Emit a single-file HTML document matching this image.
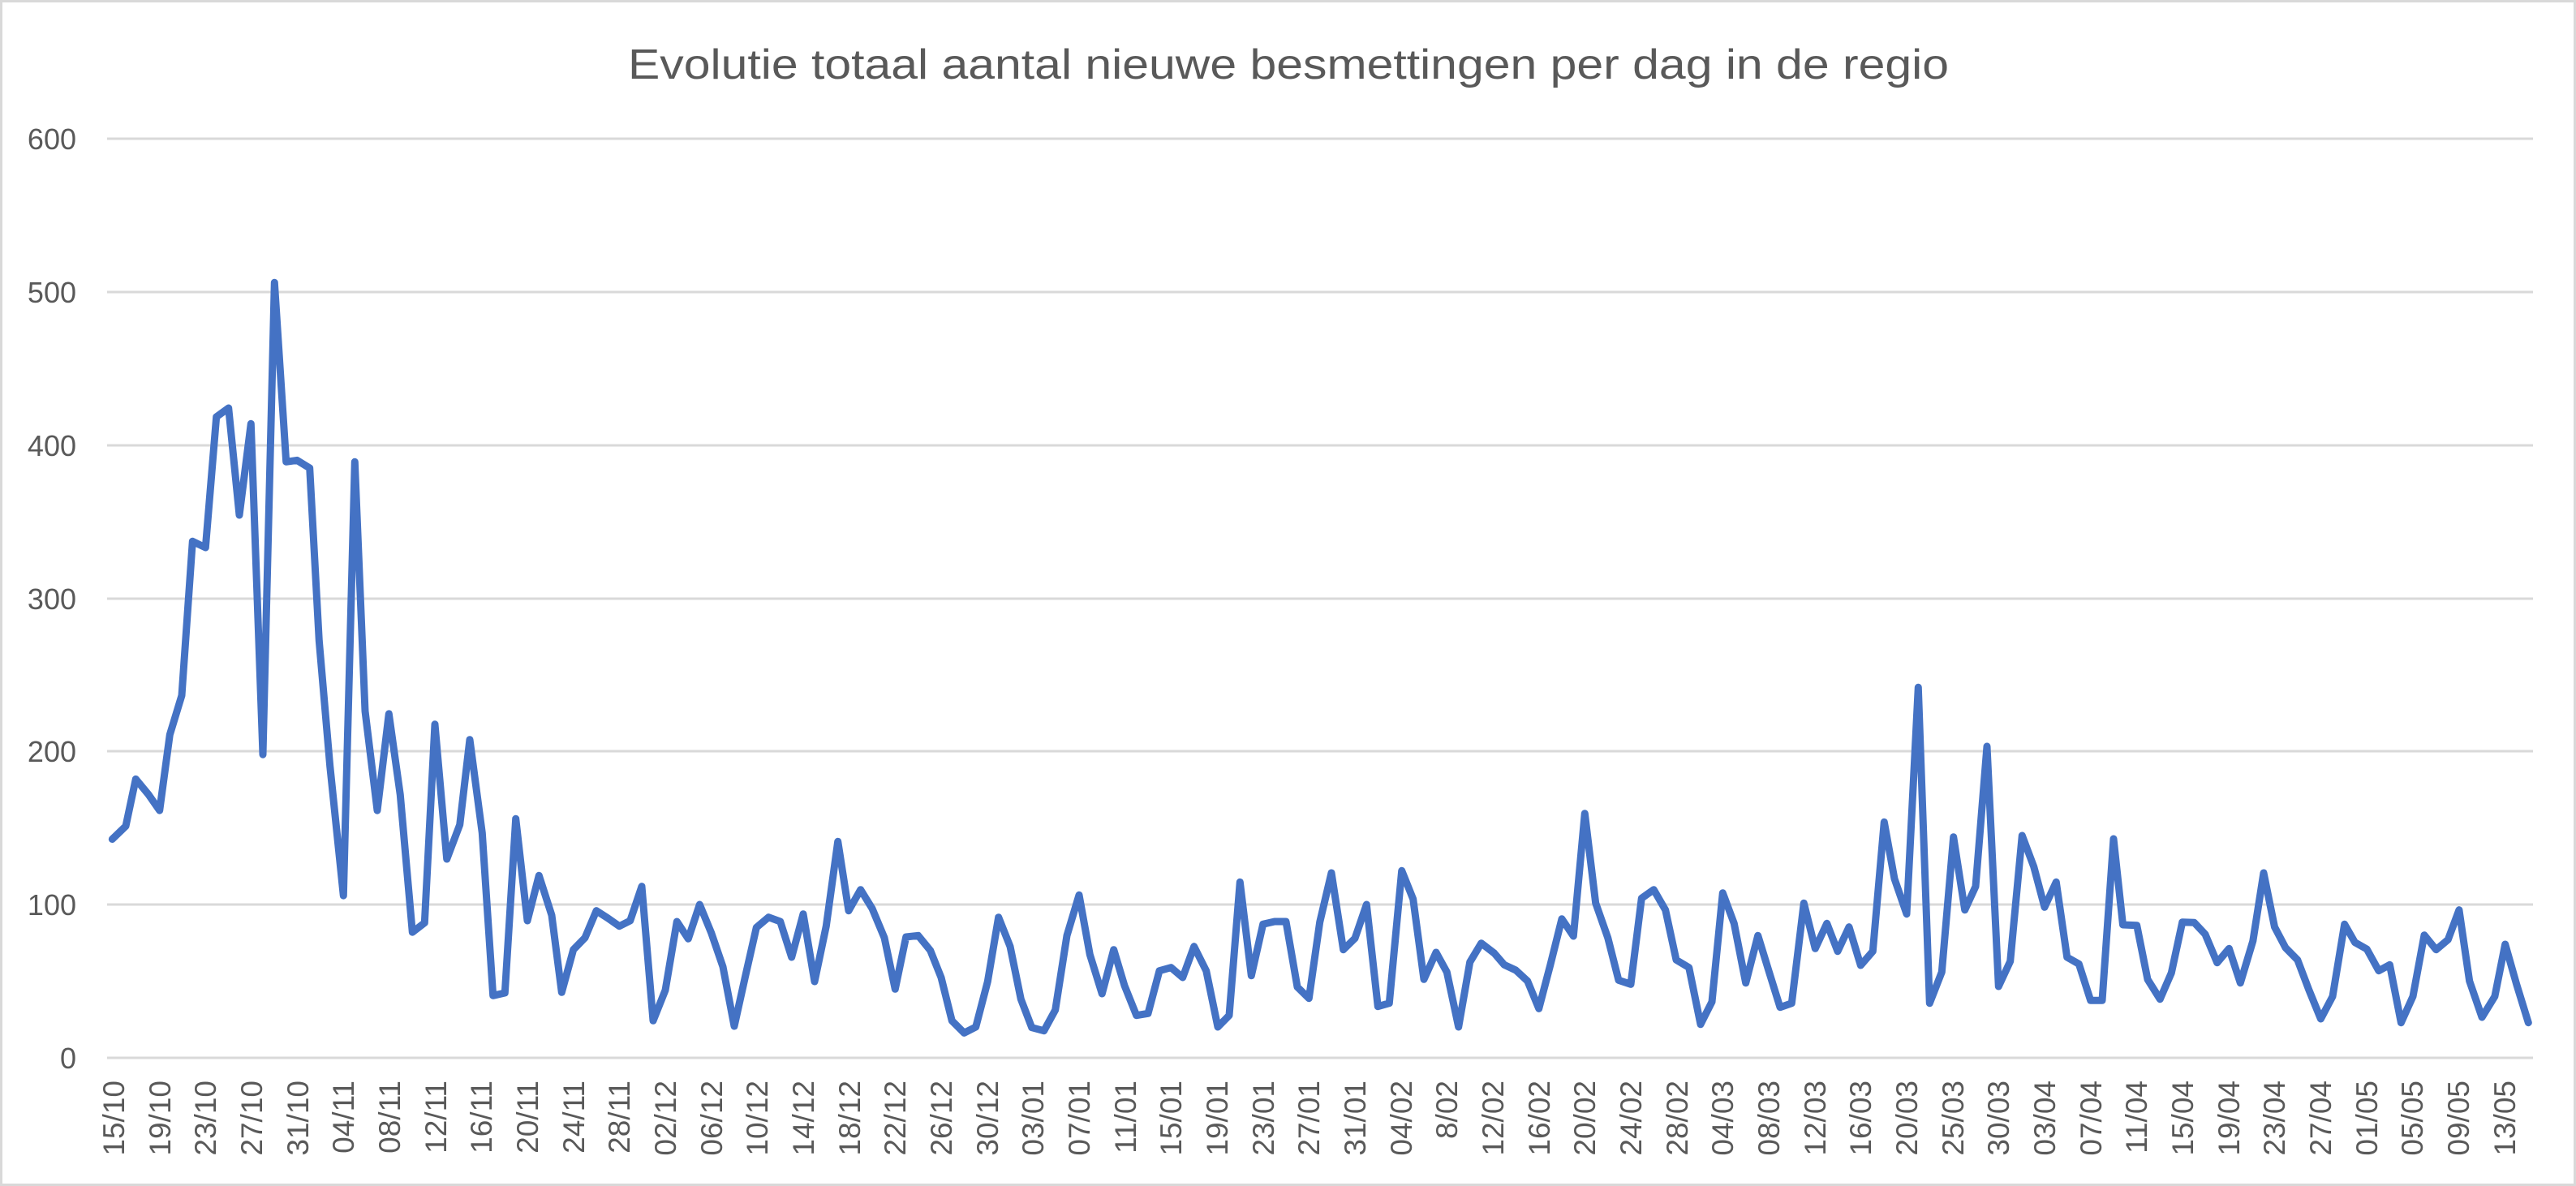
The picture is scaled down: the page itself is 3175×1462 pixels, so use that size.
<!DOCTYPE html>
<html><head><meta charset="utf-8"><style>html,body{margin:0;padding:0;background:#fff}svg{display:block}</style></head>
<body>
<svg width="3175" height="1462" viewBox="0 0 3175 1462" xmlns="http://www.w3.org/2000/svg" font-family="Liberation Sans, sans-serif">
<rect x="0" y="0" width="3175" height="1462" fill="#fff"/>
<rect x="1.5" y="1.5" width="3172" height="1459" fill="none" stroke="#d9d9d9" stroke-width="3"/>
<text x="1588" y="97" text-anchor="middle" font-size="52" fill="#595959" textLength="1628" lengthAdjust="spacingAndGlyphs">Evolutie totaal aantal nieuwe besmettingen per dag in de regio</text>
<g stroke="#d9d9d9" stroke-width="3">
<line x1="132" y1="171" x2="3122" y2="171"/>
<line x1="132" y1="360" x2="3122" y2="360"/>
<line x1="132" y1="549" x2="3122" y2="549"/>
<line x1="132" y1="738" x2="3122" y2="738"/>
<line x1="132" y1="926" x2="3122" y2="926"/>
<line x1="132" y1="1115" x2="3122" y2="1115"/>
<line x1="132" y1="1304" x2="3122" y2="1304"/>
</g>
<g font-size="36" fill="#595959" text-anchor="end">
<text x="94" y="184">600</text>
<text x="94" y="373">500</text>
<text x="94" y="562">400</text>
<text x="94" y="751">300</text>
<text x="94" y="939">200</text>
<text x="94" y="1128">100</text>
<text x="94" y="1317">0</text>
</g>
<g font-size="37" fill="#595959" text-anchor="end" id="xl"></g>
<polyline fill="none" stroke="#4472c4" stroke-width="9" stroke-linejoin="round" stroke-linecap="round" points="
138.3,1034.5 155,1018.4 167.3,960.4 183.3,979.8 196.7,999.1 209.3,905.7 224,857.3 237.3,667.3 253.3,675 266.7,513.9 281.7,503 295,635 309.3,522.3 324,930.2 338.3,348.3 352.7,569.3 366,567.4 381.7,577 393.3,789.7 406.7,944.3 423.3,1104.1 437.3,569.3 450,876.7 465,999.1 479.3,879.9 493.3,979.8 508.3,1149.2 523.3,1137.6 536,892.8 550.7,1059
566.7,1016.7 579,911.7 594.3,1026.7 607.7,1227.3 622.3,1224 635.7,1009.3 650,1135 664.3,1079.3 680,1128.3 692.3,1223.3 706.7,1170.7 721,1156 735,1122.7 749,1131.7 763.3,1141.7 776.7,1135 791,1092.7 805,1258.3 820,1220.7 834.3,1136 848.3,1157.3 862.3,1115 876.7,1150 891,1191.7 905,1265 918.3,1205 932.3,1143.3 947.3,1130.7 961.7,1136 975.7,1180
990,1126.7 1004,1210 1018.3,1141.7 1032.7,1037.3 1046,1122.7 1060.7,1096.7 1075,1120 1090,1156 1103.3,1219.3 1116.7,1155 1131.7,1153.3 1146.7,1171.7 1160,1205 1173.3,1258.3 1188.3,1273.3 1202.7,1266 1217.3,1210 1230.7,1130.7 1245,1166.7 1258.3,1231.7 1271.7,1266.7 1286.7,1270.7 1300.7,1245 1315,1153.3 1330,1103.3 1343.3,1176.7 1358.3,1225 1372.7,1170.7 1386,1215 1400.7,1251.7
1415,1249.3 1429,1196.7 1443.3,1192.7 1457.7,1205 1471.7,1166.7 1486.7,1196.7 1501,1266 1515,1251.7 1528.3,1087.3 1542.3,1202.7 1556.7,1139.3 1571,1136 1585,1136 1599,1216.7 1613.3,1230.7 1626.7,1136.7 1641,1076 1655.7,1170.7 1670,1156.7 1684.3,1115 1698.3,1240.7 1712.3,1236.7 1727.7,1073.3 1741.7,1108.3 1755,1207.3 1770,1174 1783.3,1198.3 1797.7,1266 1811.7,1186 1825.7,1162.7
1841.7,1175 1854,1189.3 1868.3,1196 1882.7,1209.3 1896.7,1243.3 1910.7,1190 1925,1132.7 1939.3,1154 1953.3,1002.7 1966.7,1113.3 1981.7,1156 1995,1208.3 2010,1213.3 2023.3,1107.3 2038.3,1096.7 2052.7,1121.7 2066,1183.3 2081.7,1192.7 2096,1262.7 2110,1235 2123.3,1100.7 2137.3,1138.3 2151.7,1211.7 2166.7,1153.3 2180,1196.7 2194,1241.7 2208.3,1236.7 2223.3,1113.3 2237.3,1169.3 2251.7,1138.3
2265,1172.7 2279,1142.7 2293.3,1190 2308.3,1172.7 2322.3,1013.3 2335,1083.3 2350,1126.7 2364.3,847.3 2378.3,1236.7 2393.3,1198.3 2407.7,1031.7 2421.7,1121.7 2435,1092.7 2449,920 2463.3,1216 2477.7,1185 2492.3,1030 2506.7,1068.3 2520,1118.3 2534.3,1087.3 2547.7,1180 2562.3,1188.3 2576.7,1233.3 2591,1233.3 2605,1034
2616.5,1140 2633.7,1140.7 2647,1207.3 2662.3,1231.7 2676.3,1199.3 2689.8,1136.7 2704.5,1137.3 2718,1151.7 2732.7,1186.7 2747.4,1169.3 2761.3,1211.7 2776.8,1160 2790,1076 2803.5,1142.7 2817,1168.3 2831.8,1183.3 2845.7,1220 2860.4,1256 2875,1228.3 2889.7,1139.3 2902.5,1161.7 2917.2,1170 2931.9,1196.7 2945.4,1189.3 2959.4,1260.7 2974,1228.3 2988,1152.7 3002.6,1170.7 3017.3,1158.3 3030.9,1121.7 3043.7,1209.3 3059.1,1254 3074.9,1228.3 3087.7,1164 3101.7,1213.3 3116.3,1260.7"/>
<g font-size="37" fill="#595959" text-anchor="end">
<text transform="translate(153,1332) rotate(-90)">15/10</text>
<text transform="translate(210,1332) rotate(-90)">19/10</text>
<text transform="translate(266,1332) rotate(-90)">23/10</text>
<text transform="translate(323,1332) rotate(-90)">27/10</text>
<text transform="translate(380,1332) rotate(-90)">31/10</text>
<text transform="translate(436,1332) rotate(-90)">04/11</text>
<text transform="translate(493,1332) rotate(-90)">08/11</text>
<text transform="translate(550,1332) rotate(-90)">12/11</text>
<text transform="translate(606,1332) rotate(-90)">16/11</text>
<text transform="translate(663,1332) rotate(-90)">20/11</text>
<text transform="translate(720,1332) rotate(-90)">24/11</text>
<text transform="translate(776,1332) rotate(-90)">28/11</text>
<text transform="translate(833,1332) rotate(-90)">02/12</text>
<text transform="translate(890,1332) rotate(-90)">06/12</text>
<text transform="translate(946,1332) rotate(-90)">10/12</text>
<text transform="translate(1003,1332) rotate(-90)">14/12</text>
<text transform="translate(1060,1332) rotate(-90)">18/12</text>
<text transform="translate(1116,1332) rotate(-90)">22/12</text>
<text transform="translate(1173,1332) rotate(-90)">26/12</text>
<text transform="translate(1230,1332) rotate(-90)">30/12</text>
<text transform="translate(1286,1332) rotate(-90)">03/01</text>
<text transform="translate(1343,1332) rotate(-90)">07/01</text>
<text transform="translate(1400,1332) rotate(-90)">11/01</text>
<text transform="translate(1456,1332) rotate(-90)">15/01</text>
<text transform="translate(1513,1332) rotate(-90)">19/01</text>
<text transform="translate(1570,1332) rotate(-90)">23/01</text>
<text transform="translate(1626,1332) rotate(-90)">27/01</text>
<text transform="translate(1683,1332) rotate(-90)">31/01</text>
<text transform="translate(1740,1332) rotate(-90)">04/02</text>
<text transform="translate(1796,1332) rotate(-90)">8/02</text>
<text transform="translate(1853,1332) rotate(-90)">12/02</text>
<text transform="translate(1910,1332) rotate(-90)">16/02</text>
<text transform="translate(1966,1332) rotate(-90)">20/02</text>
<text transform="translate(2023,1332) rotate(-90)">24/02</text>
<text transform="translate(2080,1332) rotate(-90)">28/02</text>
<text transform="translate(2136,1332) rotate(-90)">04/03</text>
<text transform="translate(2193,1332) rotate(-90)">08/03</text>
<text transform="translate(2250,1332) rotate(-90)">12/03</text>
<text transform="translate(2306,1332) rotate(-90)">16/03</text>
<text transform="translate(2363,1332) rotate(-90)">20/03</text>
<text transform="translate(2420,1332) rotate(-90)">25/03</text>
<text transform="translate(2476,1332) rotate(-90)">30/03</text>
<text transform="translate(2533,1332) rotate(-90)">03/04</text>
<text transform="translate(2590,1332) rotate(-90)">07/04</text>
<text transform="translate(2646,1332) rotate(-90)">11/04</text>
<text transform="translate(2703,1332) rotate(-90)">15/04</text>
<text transform="translate(2760,1332) rotate(-90)">19/04</text>
<text transform="translate(2816,1332) rotate(-90)">23/04</text>
<text transform="translate(2873,1332) rotate(-90)">27/04</text>
<text transform="translate(2930,1332) rotate(-90)">01/05</text>
<text transform="translate(2986,1332) rotate(-90)">05/05</text>
<text transform="translate(3043,1332) rotate(-90)">09/05</text>
<text transform="translate(3100,1332) rotate(-90)">13/05</text>
</g>
</svg>
</body></html>
